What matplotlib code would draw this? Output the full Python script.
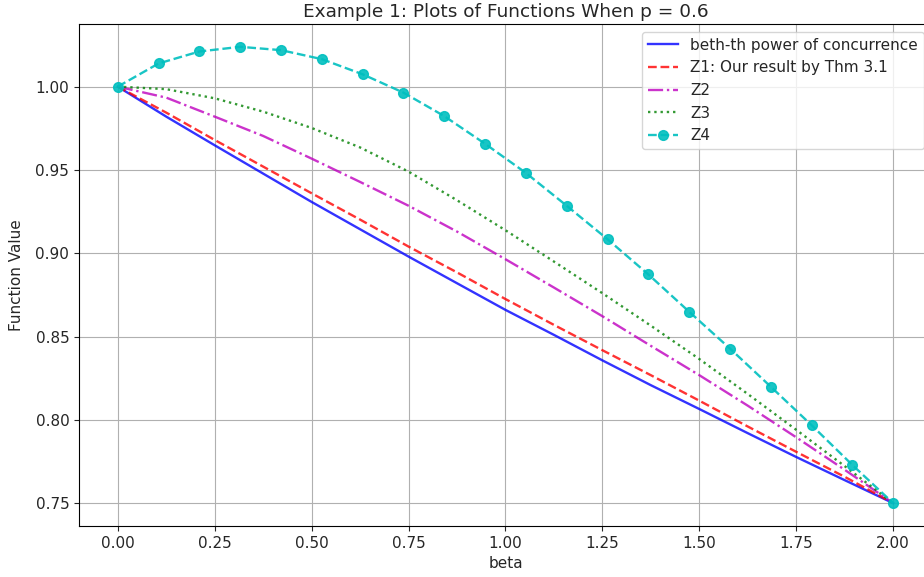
import numpy as np
import matplotlib
matplotlib.use("Agg")
import matplotlib.pyplot as plt

# beta grid for the smooth curves (read every 0.125)
beta = np.arange(0, 2.0001, 0.125)

conc = [1.0, 0.982, 0.9648, 0.9478, 0.9308, 0.9144, 0.898, 0.882, 0.866,
        0.851, 0.8357, 0.8208, 0.8065, 0.792, 0.7777, 0.7638, 0.75]
z1 = [1.0, 0.9844, 0.968, 0.952, 0.936, 0.9202, 0.904, 0.8885, 0.8725,
      0.857, 0.8418, 0.8268, 0.8115, 0.796, 0.7808, 0.7658, 0.75]
z2 = [1.0, 0.9934, 0.982, 0.9704, 0.9568, 0.9428, 0.9285, 0.913, 0.8964,
      0.8794, 0.8622, 0.8444, 0.8268, 0.8085, 0.7895, 0.770, 0.75]
z3 = [1.0, 0.9985, 0.993, 0.985, 0.9752, 0.9635, 0.949, 0.9318, 0.9138,
      0.895, 0.876, 0.8565, 0.8365, 0.8155, 0.794, 0.7722, 0.75]

# Z4 is drawn with markers at 20 points
beta4 = np.linspace(0, 2, 20)
z4 = [1.0, 1.0139, 1.0211, 1.0239, 1.0219, 1.0165, 1.0074, 0.9964, 0.9823,
      0.9657, 0.9482, 0.9285, 0.9084, 0.8873, 0.8649, 0.8428, 0.8199,
      0.7968, 0.7729, 0.75]

plt.rcParams['font.size'] = 11
plt.rcParams['text.color'] = '#262626'
plt.rcParams['axes.labelcolor'] = '#262626'
plt.rcParams['xtick.color'] = '#262626'
plt.rcParams['ytick.color'] = '#262626'

fig = plt.figure(figsize=(9.24, 5.77), dpi=100)
ax = fig.add_axes([79 / 924, 51 / 577, 853 / 924, 502 / 577])

lw = 1.7
ax.plot(beta, conc, 'b-', lw=lw, alpha=0.8, label='beth-th power of concurrence')
ax.plot(beta, z1, 'r--', lw=lw, alpha=0.8, label='Z1: Our result by Thm 3.1')
ax.plot(beta, z2, 'm-.', lw=lw, alpha=0.8, label='Z2')
ax.plot(beta, z3, 'g:', lw=lw, alpha=0.8, label='Z3')
ax.plot(beta4, z4, 'c--o', lw=lw, ms=7, alpha=0.9, label='Z4')

ax.set_title('Example 1: Plots of Functions When p = 0.6', fontsize=13.3, pad=5)
ax.set_xlabel('beta')
ax.set_ylabel('Function Value', labelpad=8)
ax.grid(True)
ax.legend(loc='upper right')

fig.savefig('out.png', dpi=100)
